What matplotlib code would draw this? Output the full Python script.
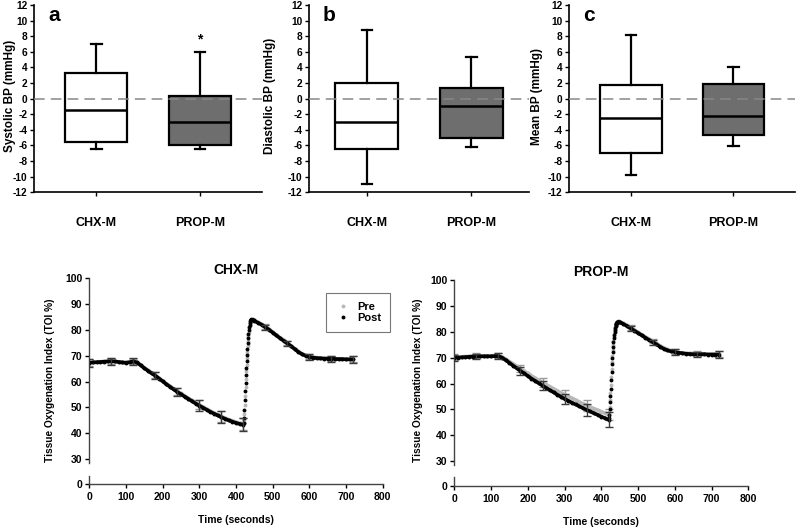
import matplotlib
matplotlib.use('Agg')
import matplotlib.pyplot as plt

plt.rcParams['font.family'] = ['Liberation Sans', 'DejaVu Sans']
plt.rcParams['font.weight'] = 'bold'
plt.rcParams['axes.labelweight'] = 'bold'

# ---------------- Box plot data ----------------
groups = ['CHX-M', 'PROP-M']
box_colors = ['white', '#6e6e6e']

systolic_low = [-6.5, -6.5]
systolic_q1 = [-5.5, -6.0]
systolic_med = [-1.5, -3.0]
systolic_q3 = [3.3, 0.4]
systolic_high = [7.0, 6.0]

diastolic_low = [-10.9, -6.2]
diastolic_q1 = [-6.5, -5.0]
diastolic_med = [-3.0, -1.0]
diastolic_q3 = [2.0, 1.4]
diastolic_high = [8.8, 5.3]

mean_low = [-9.8, -6.1]
mean_q1 = [-7.0, -4.65]
mean_med = [-2.5, -2.2]
mean_q3 = [1.8, 1.9]
mean_high = [8.15, 4.0]

bp_ticks = [-12, -10, -8, -6, -4, -2, 0, 2, 4, 6, 8, 10, 12]

# ---------------- Time series data ----------------
time_s = list(range(0, 421, 10)) + list(range(421, 441)) + [442, 444, 446, 448, 450] + list(range(460, 721, 10))

chx_post = [67.3, 67.4, 67.5, 67.6, 67.7, 67.8, 67.9, 67.8, 67.6, 67.4,
            67.3, 67.5, 67.8, 67.4, 66.3, 65.2, 64.2, 63.2, 62.3, 61.2,
            60.1, 59.0, 58.0, 57.0, 56.0, 55.1, 54.2, 53.3, 52.4, 51.5,
            50.7, 49.9, 49.1, 48.3, 47.6, 46.9, 46.2, 45.6, 45.0, 44.5,
            44.0, 43.6, 43.3,
            43.8, 46.0, 49.1, 53.0, 56.2, 59.4, 62.6, 65.2, 67.8, 70.4,
            72.8, 74.9, 76.8, 78.6, 80.0, 81.2, 82.1, 82.8, 83.3, 83.7,
            84.0, 84.0, 83.9, 83.7, 83.5,
            82.8, 82.0, 81.1, 80.1, 79.0, 77.9, 76.8, 75.8, 74.8, 73.7,
            72.6, 71.5, 70.6, 70.0, 69.6, 69.3, 69.1, 69.0, 68.9, 68.9,
            68.9, 68.8, 68.7, 68.7, 68.6, 68.6, 68.6]
chx_pre = [67.5, 67.6, 67.6, 67.7, 67.8, 67.9, 67.9, 67.8, 67.6, 67.5,
           67.4, 67.6, 67.8, 67.5, 66.5, 65.4, 64.4, 63.4, 62.5, 61.4,
           60.3, 59.2, 58.2, 57.2, 56.3, 55.4, 54.5, 53.6, 52.7, 51.8,
           51.0, 50.2, 49.4, 48.6, 47.9, 47.2, 46.5, 45.9, 45.3, 44.8,
           44.3, 43.9, 43.6,
           44.0, 45.0, 47.5, 51.0, 54.6, 57.8, 61.0, 64.0, 66.5, 69.1,
           71.6, 73.9, 75.9, 77.7, 79.3, 80.6, 81.7, 82.5, 83.1, 83.6,
           84.1, 84.2, 84.1, 83.9, 83.7,
           83.0, 82.2, 81.3, 80.3, 79.2, 78.1, 77.0, 76.0, 75.0, 73.9,
           72.8, 71.7, 70.8, 70.2, 69.8, 69.5, 69.3, 69.2, 69.1, 69.0,
           69.0, 68.9, 68.8, 68.8, 68.7, 68.7, 68.7]
prop_post = [70.0, 70.0, 70.1, 70.2, 70.3, 70.4, 70.5, 70.5, 70.5, 70.5,
             70.5, 70.6, 70.6, 70.0, 69.0, 68.0, 66.9, 65.9, 64.9, 63.9,
             62.9, 61.9, 61.0, 60.1, 59.2, 58.3, 57.4, 56.6, 55.7, 54.9,
             54.1, 53.3, 52.6, 51.9, 51.2, 50.5, 49.8, 49.2, 48.5, 47.9,
             47.2, 46.6, 46.0,
             46.5, 48.0, 50.3, 52.8, 55.0, 58.0, 61.5, 64.3, 67.5, 70.0,
             72.2, 74.3, 76.0, 77.4, 78.7, 79.8, 80.8, 81.6, 82.2, 82.7,
             83.3, 83.6, 83.8, 83.8, 83.7,
             83.0, 82.2, 81.3, 80.4, 79.5, 78.6, 77.7, 76.8, 76.0, 75.1,
             74.2, 73.4, 72.8, 72.4, 72.2, 71.9, 71.7, 71.5, 71.4, 71.3,
             71.3, 71.3, 71.3, 71.2, 71.2, 71.2, 71.2]
prop_pre = [70.2, 70.2, 70.3, 70.4, 70.5, 70.6, 70.7, 70.7, 70.7, 70.7,
            70.7, 70.8, 70.8, 70.3, 69.4, 68.5, 67.6, 66.6, 65.7, 64.8,
            63.9, 63.0, 62.1, 61.2, 60.4, 59.6, 58.8, 58.0, 57.2, 56.4,
            55.7, 55.0, 54.3, 53.6, 52.9, 52.2, 51.6, 50.9, 50.3, 49.7,
            49.1, 48.5, 48.0,
            48.2, 49.0, 51.0, 53.5, 56.5, 59.5, 62.5, 65.5, 68.2, 70.7,
            72.9, 74.9, 76.6, 78.0, 79.2, 80.3, 81.2, 81.9, 82.5, 83.0,
            83.5, 83.8, 84.0, 84.0, 83.9,
            83.3, 82.5, 81.6, 80.7, 79.8, 78.9, 78.0, 77.2, 76.4, 75.5,
            74.6, 73.8, 73.2, 72.7, 72.3, 72.0, 71.8, 71.7, 71.6, 71.6,
            71.5, 71.5, 71.5, 71.4, 71.4, 71.4, 71.4]

err_times = [0, 60, 120, 180, 240, 300, 360, 420, 480, 540, 600, 660, 720]
chx_post_err = [1.5, 1.3, 1.2, 1.3, 1.5, 2.0, 2.3, 2.6, 1.0, 1.0, 1.2, 1.2, 1.3]
chx_pre_err = [1.4, 1.2, 1.1, 1.2, 1.4, 1.8, 2.0, 2.2, 0.9, 0.9, 1.0, 1.1, 1.2]
prop_post_err = [1.2, 1.0, 1.0, 1.5, 1.8, 2.0, 2.4, 2.8, 0.9, 1.0, 1.0, 1.0, 1.2]
prop_pre_err = [1.1, 1.0, 1.0, 1.4, 1.6, 1.8, 2.2, 2.0, 0.9, 0.9, 0.9, 0.9, 1.0]

x_ticks = [0, 100, 200, 300, 400, 500, 600, 700, 800]
y_ticks_main = [30, 40, 50, 60, 70, 80, 90, 100]

W, H = 800, 528
fig = plt.figure(figsize=(8, 5.28), dpi=100)


def rect(l, t, r, b):
    return [l / W, 1 - b / H, (r - l) / W, (b - t) / H]


def box_panel(r, xlim, low, q1, med, q3, high, ylabel, letter, label_x, star=False):
    ax = fig.add_axes(r)
    stats = []
    for i in range(2):
        stats.append(dict(whislo=low[i], q1=q1[i], med=med[i], q3=q3[i], whishi=high[i], label=groups[i]))
    bp = ax.bxp(stats, positions=[1, 2], widths=0.6, capwidths=0.1, patch_artist=True,
                showfliers=False,
                boxprops=dict(linewidth=1.6, edgecolor='black'),
                whiskerprops=dict(linewidth=1.6, color='black'),
                capprops=dict(linewidth=1.6, color='black'),
                medianprops=dict(linewidth=1.8, color='black'))
    for patch, c in zip(bp['boxes'], box_colors):
        patch.set_facecolor(c)
    ax.axhline(0, color='#888888', linewidth=1.1, dashes=(7, 4), zorder=5)
    ax.set_xlim(*xlim)
    ax.set_ylim(-12, 12)
    ax.set_yticks(bp_ticks)
    ax.set_yticklabels([str(v) for v in bp_ticks])
    ax.tick_params(axis='y', labelsize=7.3, length=3, width=1, pad=2)
    ax.tick_params(axis='x', labelsize=9, length=3, width=1, pad=15)
    for s in ['top', 'right']:
        ax.spines[s].set_visible(False)
    for s in ['left', 'bottom']:
        ax.spines[s].set_linewidth(1.2)
    fig.text(label_x / W, 1 - 96 / H, ylabel, rotation=90, ha='center', va='center',
             fontsize=8.5, fontweight='bold')
    ax.text(0.06, 0.945, letter, transform=ax.transAxes, fontsize=15, fontweight='bold',
            ha='left', va='center')
    if star:
        ax.text(2, 7.6, '*', ha='center', va='center', fontsize=10, fontweight='bold')
    return ax


box_panel(rect(34.3, 5, 262, 192.3), (0.4, 2.6), systolic_low, systolic_q1, systolic_med,
          systolic_q3, systolic_high, 'Systolic BP (mmHg)', 'a', 10, star=True)
box_panel(rect(309.3, 5, 529, 192.3), (0.45, 2.55), diastolic_low, diastolic_q1, diastolic_med,
          diastolic_q3, diastolic_high, 'Diastolic BP (mmHg)', 'b', 270)
box_panel(rect(569.3, 5, 795, 192.3), (0.4, 2.6), mean_low, mean_q1, mean_med,
          mean_q3, mean_high, 'Mean BP (mmHg)', 'c', 537)


def toi_panel(l, r, top100, bot_main, ymin_main, bot_small, top_small, title, pre, post,
              pre_err, post_err, ylabel_x, legend=False):
    ax = fig.add_axes(rect(l, top100, r, bot_main))
    axs = fig.add_axes(rect(l, top_small, r, bot_small))
    idx = [time_s.index(t) for t in err_times]
    i_fall_end = time_s.index(420)
    i_peak = time_s.index(440)
    ax.errorbar(err_times, [pre[i] for i in idx], yerr=pre_err, fmt='none',
                ecolor='#9a9a9a', elinewidth=1.0, capsize=2.8, capthick=1.0, zorder=2)
    handles = []
    for series, col, lab, z in [(pre, '#b8b8b8', 'Pre', 3), (post, 'black', 'Post', 4)]:
        h, = ax.plot(time_s, series, linestyle='none', marker='o', markersize=2.8, color=col,
                     markeredgewidth=0, label=lab, zorder=z)
        handles.append(h)
        ax.plot(time_s[:i_fall_end + 1], series[:i_fall_end + 1], color=col, linewidth=2.6,
                solid_capstyle='round', zorder=z)
        ax.plot(time_s[i_peak:], series[i_peak:], color=col, linewidth=2.6,
                solid_capstyle='round', zorder=z)
    ax.errorbar(err_times, [post[i] for i in idx], yerr=post_err, fmt='none',
                ecolor='#3a3a3a', elinewidth=1.0, capsize=2.8, capthick=1.0, zorder=5)
    ax.set_xlim(0, 800)
    ax.set_ylim(ymin_main, 100)
    ax.set_yticks(y_ticks_main)
    ax.tick_params(axis='y', labelsize=7.5, length=3, width=1, pad=2)
    ax.tick_params(axis='x', bottom=False, labelbottom=False)
    for s in ['top', 'right', 'bottom']:
        ax.spines[s].set_visible(False)
    ax.spines['left'].set_linewidth(1.0)
    ax.spines['left'].set_color('#444444')
    ax.set_title(title, fontsize=10, fontweight='bold', pad=3)

    small_h = (bot_small - top_small) / (bot_main - top100) * (100 - ymin_main)
    axs.set_xlim(0, 800)
    axs.set_ylim(0, small_h)
    axs.set_yticks([0])
    axs.set_xticks(x_ticks)
    axs.tick_params(axis='y', labelsize=7.5, length=3, width=1, pad=2)
    axs.tick_params(axis='x', labelsize=7.5, length=3, width=1, pad=3)
    for s in ['top', 'right']:
        axs.spines[s].set_visible(False)
    for s in ['left', 'bottom']:
        axs.spines[s].set_linewidth(1.0)
        axs.spines[s].set_color('#444444')
    axs.patch.set_alpha(0)
    axs.set_xlabel('Time (seconds)', fontsize=7.5, fontweight='bold', labelpad=9)
    fig.text(ylabel_x / W, 1 - 380 / H, 'Tissue Oxygenation Index (TOI %)', rotation=90,
             ha='center', va='center', fontsize=7.3, fontweight='bold')
    if legend:
        leg = ax.legend(handles=handles, labels=['Pre', 'Post'],
                        loc='upper left',
                        bbox_to_anchor=((326 - l) / (r - l), (bot_main - 293) / (bot_main - top100)),
                        fontsize=8, frameon=True, fancybox=False, edgecolor='#555555',
                        markerscale=1.0, handlelength=1.4, handletextpad=0.6, labelspacing=0.1,
                        borderpad=0.8, borderaxespad=0)
        leg.get_frame().set_linewidth(0.8)
    return ax


toi_panel(89.3, 382.7, 278.3, 462.7, 28.6, 484, 476, 'CHX-M', chx_pre, chx_post,
          chx_pre_err, chx_post_err, 50, legend=True)
toi_panel(454.3, 748.3, 280, 464.5, 28.7, 486, 477, 'PROP-M', prop_pre, prop_post,
          prop_pre_err, prop_post_err, 418)

fig.savefig('out.png', dpi=100)
